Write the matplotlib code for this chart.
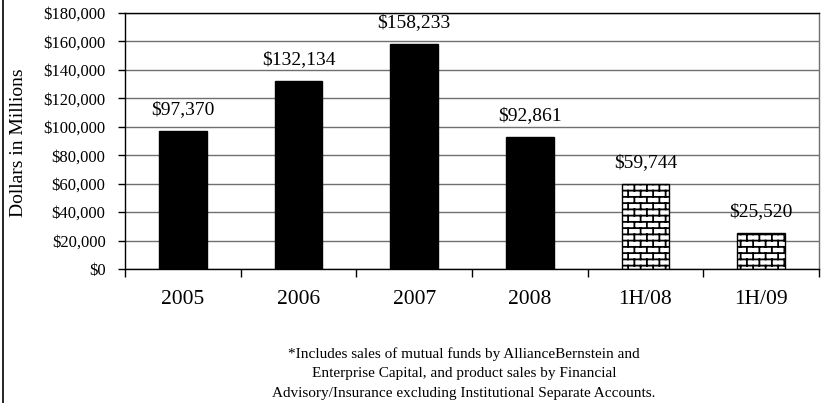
import warnings
import numpy as np
import matplotlib
matplotlib.use("Agg")
import matplotlib.pyplot as plt
import matplotlib.hatch as mhatch
from matplotlib.path import Path
from matplotlib.lines import Line2D
from matplotlib.ticker import FuncFormatter

warnings.filterwarnings("ignore")

# ---- data -------------------------------------------------------------
categories = ["2005", "2006", "2007", "2008", "1H/08", "1H/09"]
sales = [97370, 132134, 158233, 92861, 59744, 25520]
half_year = [False, False, False, False, True, True]
y_ticks = [0, 20000, 40000, 60000, 80000, 100000, 120000, 140000, 160000, 180000]
y_label = "Dollars in Millions"
footnote_lines = [
    "*Includes sales of mutual funds by AllianceBernstein and",
    "Enterprise Capital, and product sales by Financial",
    "Advisory/Insurance excluding Institutional Separate Accounts.",
]


# ---- brick hatch pattern ('B') ---------------------------------------
class BrickHatch(mhatch.HatchPatternBase):
    ROWS, COLS = 16, 8

    def __init__(self, hatch, density):
        n = hatch.count("B")
        self.rows = self.ROWS * n
        self.cols = self.COLS * n
        if n:
            self.num_vertices = 2 * self.rows + 2 * self.rows * self.cols + 2 * self.cols
        else:
            self.num_vertices = 0

    def set_vertices_and_codes(self, vertices, codes):
        r, c = self.rows, self.cols
        h = 1.0 / r
        ys = (np.arange(r) + 0.5) / r
        # horizontal mortar lines
        vertices[0:2 * r:2, 0] = 0.0
        vertices[0:2 * r:2, 1] = ys
        vertices[1:2 * r:2, 0] = 1.0
        vertices[1:2 * r:2, 1] = ys
        k = 2 * r
        # vertical joints, staggered by half a brick on alternate rows
        for i in range(r):
            xs = (np.arange(c) + (0.75 if i % 2 else 0.25)) / c
            vertices[k:k + 2 * c:2, 0] = xs
            vertices[k:k + 2 * c:2, 1] = ys[i]
            vertices[k + 1:k + 2 * c:2, 0] = xs
            vertices[k + 1:k + 2 * c:2, 1] = ys[i] + h
            k += 2 * c
        # wrap of the last row into the bottom of the tile
        xs = (np.arange(c) + (0.75 if (r - 1) % 2 else 0.25)) / c
        vertices[k::2, 0] = xs
        vertices[k::2, 1] = 0.0
        vertices[k + 1::2, 0] = xs
        vertices[k + 1::2, 1] = ys[0]
        codes[0::2] = Path.MOVETO
        codes[1::2] = Path.LINETO


mhatch._hatch_types.append(BrickHatch)

plt.rcParams["font.family"] = ["Liberation Serif", "DejaVu Serif"]
plt.rcParams["hatch.linewidth"] = 1.3

W, H = 824, 403
fig = plt.figure(figsize=(W / 100, H / 100), dpi=100)
ax = fig.add_axes([125 / W, 134 / H, 694 / W, 256 / H])

x = np.arange(len(categories))
face = ["white" if h else "black" for h in half_year]
hatch = ["B" if h else None for h in half_year]
bars = ax.bar(x, sales, width=0.41, color=face, edgecolor="black",
              linewidth=1.0, zorder=2)
for b, hp in zip(bars, hatch):
    if hp:
        b.set_hatch(hp)

ax.bar_label(bars, labels=["${:,.0f}".format(v) for v in sales],
             padding=9, fontsize=14)

ax.set_xlim(-0.5, len(categories) - 0.5)
ax.set_ylim(y_ticks[0], y_ticks[-1])
ax.set_yticks(y_ticks)
ax.yaxis.set_major_formatter(FuncFormatter(lambda v, p: "${:,.0f}".format(v)))
ax.tick_params(axis="y", direction="out", length=5, width=1, pad=9,
               labelsize=12)

# category boundaries as major ticks, names on minor ticks
ax.set_xticks(np.arange(-0.5, len(categories), 1.0))
ax.set_xticklabels([])
ax.set_xticks(x, minor=True)
ax.set_xticklabels(categories, minor=True)
ax.tick_params(axis="x", which="major", direction="out", length=6, width=1)
ax.tick_params(axis="x", which="minor", length=0, pad=15, labelsize=15.5)

ax.yaxis.grid(True, color="#707070", linewidth=1.0)
ax.set_axisbelow(True)
for side in ("left", "bottom", "top"):
    ax.spines[side].set_color("black")
    ax.spines[side].set_linewidth(1.0)
ax.spines["right"].set_color("#707070")
ax.spines["right"].set_linewidth(1.0)

fig.text(19 / W, 1 - 143 / H, y_label, rotation=90, ha="center",
         va="center", fontsize=14)

for i, line in enumerate(footnote_lines):
    fig.text(464 / W, 1 - (354 + 20 * i) / H, line, ha="center",
             va="center", fontsize=11)

# frame line on the left edge of the figure
fig.add_artist(Line2D([3 / W, 3 / W], [0, 1], transform=fig.transFigure,
                      color="black", linewidth=1.2))

fig.savefig("out.png", dpi=100)
